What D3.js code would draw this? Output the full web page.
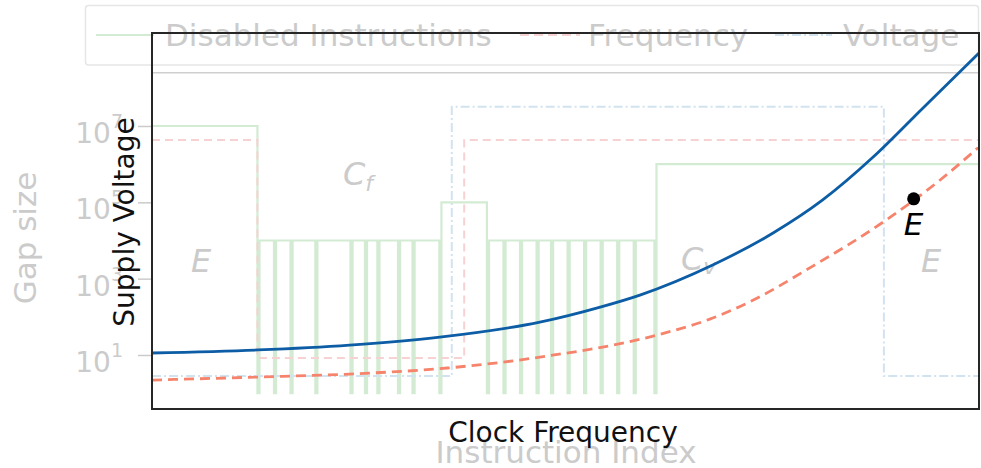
<!DOCTYPE html>
<html><head><meta charset="utf-8">
<script src="https://cdn.jsdelivr.net/npm/d3@7"></script>
<style>body{margin:0;background:#fff}svg{display:block}text{font-family:"DejaVu Sans",sans-serif}</style>
</head><body><svg id="c" width="981" height="468"></svg>
<script>
// ---------- data ----------
// background chart: gap size per instruction index (step series)
const gapIndex = [0, 51, 52, 59, 60, 67, 68, 79, 80, 96, 97, 103, 104, 109, 110, 119, 120, 126, 127, 139, 140,
  162, 163, 170, 171, 178, 179, 186, 187, 193, 194, 201, 202, 209, 210, 217, 218, 225, 226, 233, 234, 243, 244, 400];
const gapSize = [1e7, 1, 1e4, 1, 1e4, 1, 1e4, 1, 1e4, 1, 1e4, 1, 1e4, 1, 1e4, 1, 1e4, 1, 1e4, 1, 1e5,
  1, 1e4, 1, 1e4, 1, 1e4, 1, 1e4, 1, 1e4, 1, 1e4, 1, 1e4, 1, 1e4, 1, 1e4, 1, 1e4, 1, 1e6, 1e6];
const freqIndex = [0, 51, 151, 400];
const freqLevel = [4.3e6, 8.3, 4.3e6, 4.3e6];
const voltIndex = [0, 145, 354, 400];
const voltLevel = [2.8, 3.2e7, 2.8, 2.8];
const gapTicks = [1e1, 1e3, 1e5, 1e7];
const gapTickExp = ["1", "3", "5", "7"];
const legendLabels = ["Disabled Instructions", "Frequency", "Voltage"];
// foreground chart: two curves over clock frequency
const blueX = [0, 12.8, 23.9, 34.8, 46.9, 54.2, 59.0, 67.8, 75.1, 81.1, 87.2, 93.2, 100];
const blueY = [14.9, 15.7, 17.0, 19.1, 23.1, 27.1, 30.3, 38.3, 46.8, 55.6, 67.0, 80.0, 94.7];
const redX = [0, 12.8, 23.9, 35.7, 46.9, 60.6, 67.8, 72.0, 79.9, 88.4, 95.3, 100];
const redY = [7.7, 8.5, 9.3, 10.9, 13.8, 19.4, 24.2, 28.2, 38.0, 49.7, 60.9, 69.7];
const pointE = [92.1, 55.9];

// ---------- drawing ----------
const svg = d3.select("#c");
const gray = "#cbcbcb";
const cGreen = "#d3ebd3", cRed = "#f6d2d2", cBlue = "#d2e3f0";

// background scales
const bx = d3.scaleLinear().domain([0, 400]).range([152, 979]);
const by = d3.scaleLog().domain([Math.pow(10, -0.415), Math.pow(10, 8.396)]).range([409, 72.7]);

// legend box
svg.append("rect").attr("x", 85.5).attr("y", 5.5).attr("width", 893).attr("height", 59.5)
  .attr("rx", 3).attr("fill", "none").attr("stroke", "#e6e6e6").attr("stroke-width", 1.5);
const lg = svg.append("g");
const handles = [
  {x1: 96, x2: 154, c: cGreen, d: null, tx: 165},
  {x1: 520, x2: 580, c: cRed, d: "9,5", tx: 588},
  {x1: 775, x2: 832, c: cBlue, d: "9,3,2,3", tx: 843}
];
handles.forEach((h, i) => {
  lg.append("line").attr("x1", h.x1).attr("x2", h.x2).attr("y1", 35).attr("y2", 35)
    .attr("stroke", h.c).attr("stroke-width", 2.2).attr("stroke-dasharray", h.d);
  lg.append("text").attr("x", h.tx).attr("y", 45.5).attr("font-size", 31).attr("fill", gray)
    .text(legendLabels[i]);
});

// background top spine
svg.append("line").attr("x1", 152).attr("x2", 979).attr("y1", 72.7).attr("y2", 72.7)
  .attr("stroke", "#cfcfcf").attr("stroke-width", 1.6);

// background step lines
const stepLine = d3.line().x(d => bx(d[0])).y(d => by(d[1])).curve(d3.curveStepAfter);
const zip = (a, b) => a.map((v, i) => [v, b[i]]);
svg.append("path").datum(zip(gapIndex, gapSize)).attr("d", stepLine)
  .attr("fill", "none").attr("stroke", cGreen).attr("stroke-width", 2.2);
svg.append("path").datum(zip(freqIndex, freqLevel)).attr("d", stepLine)
  .attr("fill", "none").attr("stroke", cRed).attr("stroke-width", 2).attr("stroke-dasharray", "8,5");
svg.append("path").datum(zip(voltIndex, voltLevel)).attr("d", stepLine)
  .attr("fill", "none").attr("stroke", cBlue).attr("stroke-width", 2).attr("stroke-dasharray", "9,3,2,3");

// background y axis ticks
const yAxis = d3.axisLeft(by).tickValues(gapTicks).tickSize(14).tickFormat("");
const ga = svg.append("g").attr("transform", "translate(152,0)").call(yAxis);
ga.select(".domain").remove();
ga.selectAll(".tick line").attr("stroke", gray).attr("stroke-width", 1.5);
gapTicks.forEach((t, i) => {
  const y = by(t);
  const tx = svg.append("text").attr("x", 123).attr("y", y + 17).attr("text-anchor", "end")
    .attr("fill", gray).attr("font-size", 28);
  tx.append("tspan").text("10");
  tx.append("tspan").attr("dy", -15).attr("font-size", 19).text(gapTickExp[i]);
});
svg.append("text").attr("transform", "translate(36,238) rotate(-90)").attr("text-anchor", "middle")
  .attr("font-size", 31).attr("fill", gray).text("Gap size");
svg.append("text").attr("x", 566).attr("y", 463).attr("text-anchor", "middle")
  .attr("font-size", 31).attr("fill", gray).text("Instruction Index");

// background annotations
function ann(x, y, main, sub, sdy) {
  const t = svg.append("text").attr("x", x).attr("y", y).attr("fill", gray)
    .attr("font-size", 32).attr("font-style", "italic");
  t.append("tspan").text(main);
  if (sub) t.append("tspan").attr("dy", sdy).attr("font-size", 22).text(sub);
}
ann(191, 272, "E");
ann(343, 185, "C", "f", 6);
ann(681, 270, "C", "v", 4);
ann(921, 272, "E");

// foreground
const fx = d3.scaleLinear().domain([0, 100]).range([152, 979]);
const fy = d3.scaleLinear().domain([0, 100]).range([409, 33]);
svg.append("clipPath").attr("id", "fgclip").append("rect")
  .attr("x", 152).attr("y", 33).attr("width", 827).attr("height", 376);
const curve = d3.line().x(d => fx(d[0])).y(d => fy(d[1])).curve(d3.curveMonotoneX);
const fg = svg.append("g").attr("clip-path", "url(#fgclip)");
fg.append("path").datum(zip(redX, redY)).attr("d", curve).attr("fill", "none")
  .attr("stroke", "#f6836b").attr("stroke-width", 2.8).attr("stroke-dasharray", "10,6");
fg.append("path").datum(zip(blueX, blueY)).attr("d", curve).attr("fill", "none")
  .attr("stroke", "#0c5da5").attr("stroke-width", 2.8);

svg.append("rect").attr("x", 152).attr("y", 33).attr("width", 827).attr("height", 376)
  .attr("fill", "none").attr("stroke", "#262626").attr("stroke-width", 2);

svg.append("circle").attr("cx", fx(pointE[0])).attr("cy", fy(pointE[1])).attr("r", 6.5).attr("fill", "#000");
svg.append("text").attr("x", fx(pointE[0])).attr("y", 235).attr("text-anchor", "middle")
  .attr("font-size", 31).attr("font-style", "italic").attr("fill", "#000").text("E");

svg.append("text").attr("transform", "translate(134,222) rotate(-90)").attr("text-anchor", "middle")
  .attr("font-size", 28).attr("fill", "#111").text("Supply Voltage");
svg.append("text").attr("x", 563).attr("y", 442).attr("text-anchor", "middle")
  .attr("font-size", 28).attr("fill", "#111").text("Clock Frequency");
</script></body></html>
